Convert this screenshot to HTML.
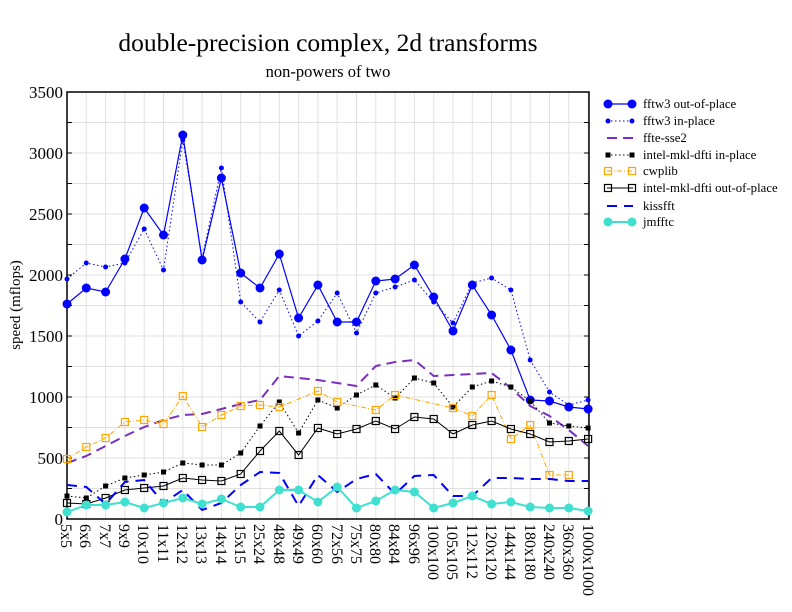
<!DOCTYPE html>
<html><head><meta charset="utf-8"><style>
body{margin:0;background:#fff}
svg{display:block;font-family:"Liberation Serif",serif}
</style></head><body>
<svg id="s" width="792" height="612" viewBox="0 0 792 612">
<text x="328" y="51" font-size="25.5" text-anchor="middle">double-precision complex, 2d transforms</text>
<text x="328" y="77" font-size="16.5" text-anchor="middle">non-powers of two</text>
<g id="grid" stroke="#e0e0e0" stroke-width="1"></g>
<rect x="67" y="92" width="522" height="427" fill="none" stroke="#000" stroke-width="1.5"/>
<g font-size="17" text-anchor="end">
<text x="63" y="98">3500</text><text x="63" y="159">3000</text><text x="63" y="220">2500</text>
<text x="63" y="281">2000</text><text x="63" y="342">1500</text><text x="63" y="403">1000</text>
<text x="63" y="464">500</text><text x="63" y="525">0</text>
</g>
<text transform="translate(20,305) rotate(-90)" font-size="15" text-anchor="middle">speed (mflops)</text>
<g font-size="16" id="xl">
<text transform="translate(61,524) rotate(90)">5x5</text>
<text transform="translate(80,524) rotate(90)">6x6</text>
<text transform="translate(100,524) rotate(90)">7x7</text>
<text transform="translate(119,524) rotate(90)">9x9</text>
<text transform="translate(138,524) rotate(90)">10x10</text>
<text transform="translate(158,524) rotate(90)">11x11</text>
<text transform="translate(177,524) rotate(90)">12x12</text>
<text transform="translate(196,524) rotate(90)">13x13</text>
<text transform="translate(216,524) rotate(90)">14x14</text>
<text transform="translate(235,524) rotate(90)">15x15</text>
<text transform="translate(254,524) rotate(90)">25x24</text>
<text transform="translate(274,524) rotate(90)">48x48</text>
<text transform="translate(293,524) rotate(90)">49x49</text>
<text transform="translate(312,524) rotate(90)">60x60</text>
<text transform="translate(332,524) rotate(90)">72x56</text>
<text transform="translate(351,524) rotate(90)">75x75</text>
<text transform="translate(370,524) rotate(90)">80x80</text>
<text transform="translate(389,524) rotate(90)">84x84</text>
<text transform="translate(409,524) rotate(90)">96x96</text>
<text transform="translate(428,524) rotate(90)">100x100</text>
<text transform="translate(447,524) rotate(90)">105x105</text>
<text transform="translate(467,524) rotate(90)">112x112</text>
<text transform="translate(486,524) rotate(90)">120x120</text>
<text transform="translate(505,524) rotate(90)">144x144</text>
<text transform="translate(525,524) rotate(90)">180x180</text>
<text transform="translate(544,524) rotate(90)">240x240</text>
<text transform="translate(563,524) rotate(90)">360x360</text>
<text transform="translate(583,524) rotate(90)">1000x1000</text>
</g>
<g id="series"></g>
<g font-size="12.8">
<text x="643" y="108">fftw3 out-of-place</text>
<text x="643" y="125">fftw3 in-place</text>
<text x="643" y="142">ffte-sse2</text>
<text x="643" y="159">intel-mkl-dfti in-place</text>
<text x="643" y="175">cwplib</text>
<text x="643" y="192">intel-mkl-dfti out-of-place</text>
<text x="643" y="210">kissfft</text>
<text x="643" y="226">jmfftc</text>
</g>
<g id="leg"></g>
</svg>
<script>
const NS="http://www.w3.org/2000/svg";
function el(p,t,a){const e=document.createElementNS(NS,t);for(const k in a)e.setAttribute(k,a[k]);p.appendChild(e);return e;}
const g=document.getElementById('grid');
for(let i=0;i<28;i++){const x=67+i*19.3;el(g,'line',{x1:x,x2:x,y1:92,y2:519});}
for(let v=250;v<3500;v+=250){const y=519-v*0.122;el(g,'line',{x1:67,x2:589,y1:y,y2:y});el(g,'line',{x1:67,x2:72,y1:y,y2:y,stroke:'#000'});el(g,'line',{x1:584,x2:589,y1:y,y2:y,stroke:'#000'});}
const S=[
{c:'#0000ff',w:1.2,d:'',m:'c',r:4.5,y:[304,288,292,259,208,235,135,260,178,273,288,254,318,285,322,322,281,279,265,297,331,285,315,350,400,401,407,409]},
{c:'#0000ff',w:1,d:'1.5,2.5',m:'c',r:2.5,y:[279,263,267,263,229,270,140,258,168,302,322,290,336,321,293,333,293,287,280,302,323,283,278,290,360,392,405,400]},
{c:'#7a2fbf',w:2,d:'10,6',m:'',y:[463,456,446,436,427,420,415,414,409,404,400,376,378,380,383,386,366,362,360,376,375,374,373,388,406,416,430,446]},
{c:'#000',w:1,d:'1.5,2.5',m:'fs',r:2.5,y:[496,498,486,478,475,472,463,465,465,453,426,402,433,400,408,395,385,398,378,383,407,387,381,387,401,423,426,428]},
{c:'#ffa500',w:1,d:'5,2,1,2',m:'os',r:3.5,y:[459,447,438,422,420,424,396,427,415,406,405,407,null,391,402,null,410,395,null,null,408,416,395,439,425,475,475,null]},
{c:'#000',w:1,d:'',m:'os',r:3.5,y:[503,504,498,490,488,486,478,480,481,474,451,431,455,428,434,429,421,429,417,419,434,425,421,429,434,442,441,439]},
{c:'#0000ff',w:2,d:'10,7',m:'',y:[485,487,504,482,480,503,490,510,503,485,472,473,506,475,492,479,474,494,476,475,496,496,478,478,479,479,481,481]},
{c:'#40e0d0',w:2,d:'',m:'c',r:4.5,y:[512,505,505,502,508,503,498,504,499,507,507,490,490,502,487,508,501,490,492,508,503,496,504,502,507,508,508,511]}
];
const sg=document.getElementById('series'),lg=document.getElementById('leg');
function mark(p,s,x,y){
 if(s.m=='c')el(p,'circle',{cx:x,cy:y,r:s.r,fill:s.c});
 else if(s.m=='fs')el(p,'rect',{x:x-s.r,y:y-s.r,width:2*s.r,height:2*s.r,fill:s.c});
 else if(s.m=='os')el(p,'rect',{x:x-s.r,y:y-s.r,width:2*s.r,height:2*s.r,fill:'none',stroke:s.c,'stroke-width':1.2});
}
S.forEach((s,k)=>{
 let pts=[];s.y.forEach((y,i)=>{if(y!=null)pts.push([67+i*19.3,y]);});
 const a={points:pts.map(p=>p.join(',')).join(' '),fill:'none',stroke:s.c,'stroke-width':s.w};
 if(s.d)a['stroke-dasharray']=s.d;
 el(sg,'polyline',a);
 pts.forEach(p=>mark(sg,s,p[0],p[1]));
 const ly=[104,121,138,155,171,188,206,222][k];
 const b={x1:607,x2:633,y1:ly,y2:ly,stroke:s.c,'stroke-width':s.w};
 if(s.d)b['stroke-dasharray']=s.d;
 el(lg,'line',b);
 if(s.m){mark(lg,s,608,ly);mark(lg,s,632,ly);}
});
</script>
</body></html>
